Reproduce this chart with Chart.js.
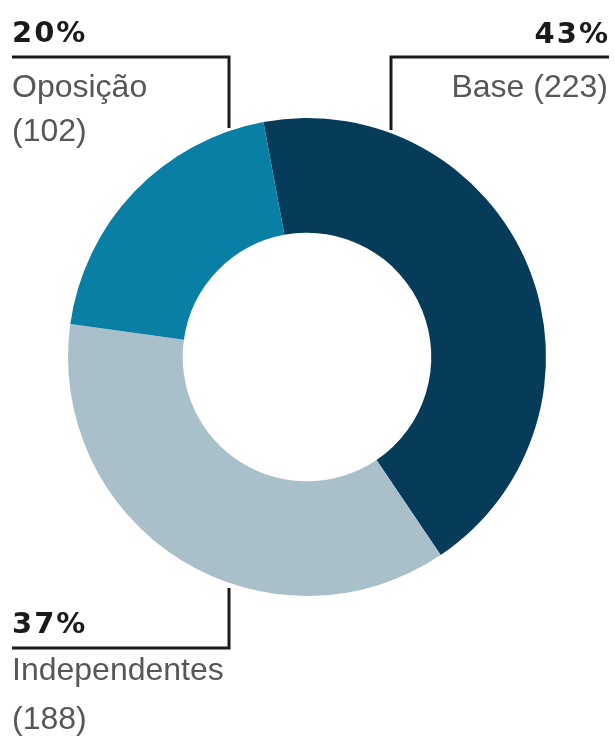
<!DOCTYPE html>
<html>
<head>
<meta charset="utf-8">
<script src="https://cdn.jsdelivr.net/npm/chart.js@4/dist/chart.umd.min.js"></script>
<style>
  html, body { margin: 0; padding: 0; background: #fff; }
  #wrap { width: 615px; height: 738px; position: relative; }
</style>
</head>
<body>
<div id="wrap"><canvas id="bancadaChart"></canvas></div>
<script>
const labels = ["Base", "Independentes", "Oposição"];
const values = [223, 188, 102];
const colors = ["#063b59", "#a9c0cb", "#0a7fa5"];

const total = values.reduce((a, b) => a + b, 0);
const percents = values.map(v => Math.round(v / total * 100) + "%");

// callout layout: where each label sits and how its leader line runs
const callouts = [
  { idx: 0, align: "right", x: 608, pctY: 43, textY: [97], line: [[609, 57], [391, 57], [391, 130]] },
  { idx: 1, align: "left", x: 12, pctY: 633, textY: [680, 729], line: [[12, 648], [229, 648], [229, 588]] },
  { idx: 2, align: "left", x: 12, pctY: 42, textY: [97, 141], line: [[12, 57], [229, 57], [229, 128]] },
];

const calloutPlugin = {
  id: "callouts",
  afterDraw(chart) {
    const ctx = chart.ctx;
    ctx.save();
    callouts.forEach(c => {
      ctx.strokeStyle = "#1c1a19";
      ctx.lineWidth = 3;
      ctx.beginPath();
      c.line.forEach((p, i) => i ? ctx.lineTo(p[0], p[1]) : ctx.moveTo(p[0], p[1]));
      ctx.stroke();

      ctx.textAlign = c.align;
      ctx.textBaseline = "alphabetic";
      ctx.fillStyle = "#1c1a19";
      ctx.font = "bold 29px 'DejaVu Sans'";
      ctx.letterSpacing = "2px";
      ctx.fillText(percents[c.idx], c.align === "right" ? c.x + 2 : c.x, c.pctY);
      ctx.letterSpacing = "0px";

      ctx.fillStyle = "#575757";
      ctx.font = "32px 'Liberation Sans'";
      const name = labels[c.idx];
      const num = "(" + values[c.idx] + ")";
      if (c.textY.length === 1) {
        ctx.fillText(name + " " + num, c.x, c.textY[0]);
      } else {
        ctx.fillText(name, c.x, c.textY[0]);
        ctx.fillText(num, c.x, c.textY[1]);
      }
    });
    ctx.restore();
  }
};

new Chart(document.getElementById("bancadaChart"), {
  type: "doughnut",
  data: {
    labels: labels,
    datasets: [{
      data: values,
      backgroundColor: colors,
      borderWidth: 0,
    }],
  },
  options: {
    responsive: true,
    maintainAspectRatio: false,
    animation: false,
    rotation: -10.5,
    cutout: "52%",
    layout: { padding: { left: 68, right: 69, top: 118, bottom: 142 } },
    plugins: {
      legend: { display: false },
      tooltip: { enabled: false },
    },
  },
  plugins: [calloutPlugin],
});
</script>
</body>
</html>
